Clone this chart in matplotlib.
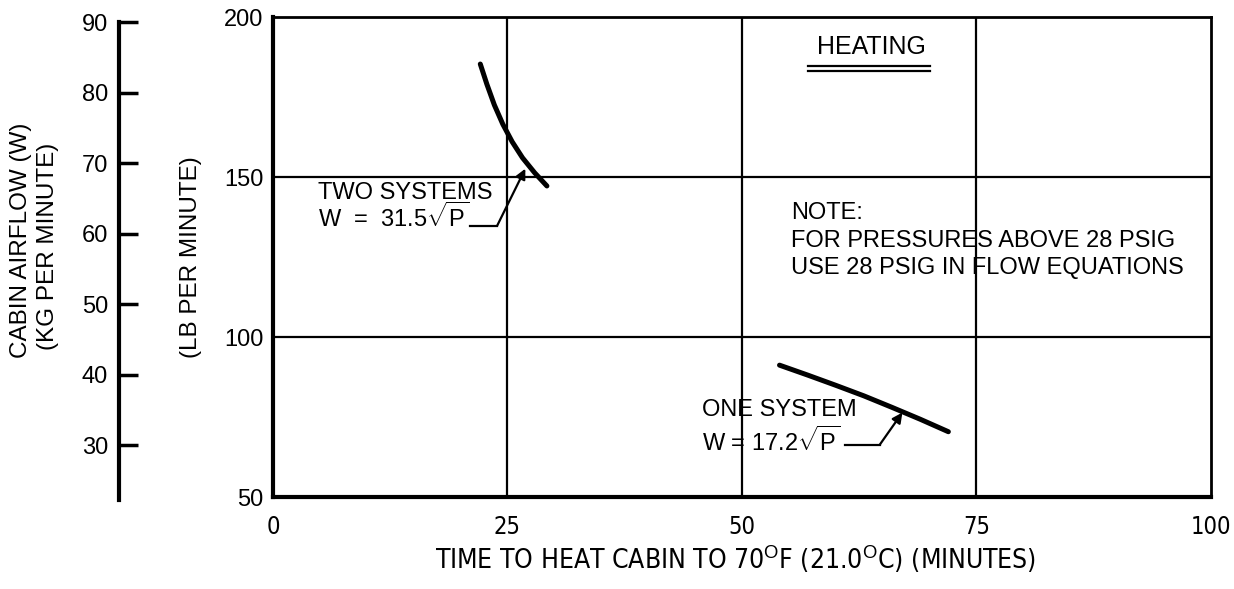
import numpy as np
import matplotlib.pyplot as plt

plt.rcParams['font.family'] = ['Liberation Sans', 'DejaVu Sans']
plt.rcParams['mathtext.fontset'] = 'custom'
plt.rcParams['mathtext.rm'] = 'Liberation Sans'
plt.rcParams['mathtext.it'] = 'Liberation Sans'
plt.rcParams['mathtext.bf'] = 'Liberation Sans:bold'

# heating curves: time (minutes) vs cabin airflow (lb/min)
two_t = [22.1, 22.8, 23.6, 24.5, 25.5, 26.6, 27.9, 29.2]
two_w = [185.3, 179.0, 172.5, 166.5, 161.0, 156.0, 151.3, 147.2]
one_t = [54.0, 57.0, 60.0, 63.0, 66.0, 69.0, 72.0]
one_w = [91.2, 88.1, 84.9, 81.6, 78.0, 74.3, 70.4]

x_ticks = [0, 25, 50, 75, 100]
lb_ticks = [50, 100, 150, 200]
kg_ticks = [30, 40, 50, 60, 70, 80, 90]
LB_PER_KG = 2.2046

cond = dict(family='DejaVu Sans', stretch='condensed')

fig = plt.figure(figsize=(12.34, 5.89), dpi=100)
ax = fig.add_axes([273 / 1234, 1 - 497 / 589, 938 / 1234, 480 / 589])

ax.set_xlim(0, 100)
ax.set_ylim(50, 200)
ax.set_xticks(x_ticks)
ax.set_yticks(lb_ticks)
ax.tick_params(axis='y', length=0, labelsize=17, pad=7)
ax.tick_params(axis='x', length=0, pad=13)
ax.set_xticklabels([str(v) for v in x_ticks], fontsize=17, **cond)

for v in [25, 50, 75]:
    ax.axvline(v, color='black', lw=1.6, zorder=1)
for v in [100, 150]:
    ax.axhline(v, color='black', lw=1.6, zorder=1)

ax.spines['left'].set_linewidth(3)
ax.spines['bottom'].set_linewidth(3)
ax.spines['top'].set_linewidth(2)
ax.spines['right'].set_linewidth(2)

ax.plot(two_t, two_w, color='black', lw=3.6, solid_capstyle='round', zorder=3)
ax.plot(one_t, one_w, color='black', lw=3.6, solid_capstyle='round', zorder=3)

arrow = dict(arrowstyle='-|>', color='black', lw=1.6, mutation_scale=15,
             shrinkA=0, shrinkB=0)

# labels with leader arrows
ax.text(4.8, 145.0, 'TWO SYSTEMS', fontsize=17, va='center', ha='left')
ax.text(4.8, 137.6, r'W  =  31.5$\sqrt{\mathrm{P}}$', fontsize=17, va='center', ha='left')
ax.plot([21.0, 23.9], [134.8, 134.8], color='black', lw=1.6)
ax.annotate('', xy=(26.9, 152.6), xytext=(23.9, 134.8), arrowprops=arrow)

ax.text(45.7, 77.2, 'ONE SYSTEM', fontsize=17, va='center', ha='left')
ax.text(45.7, 67.4, r'W = 17.2$\sqrt{\mathrm{P}}$', fontsize=17, va='center', ha='left')
ax.plot([61.0, 64.7], [66.4, 66.4], color='black', lw=1.6)
ax.annotate('', xy=(67.1, 76.4), xytext=(64.7, 66.4), arrowprops=arrow)

ax.text(63.8, 190.6, 'HEATING', fontsize=18, va='center', ha='center')
ax.plot([57.0, 70.0], [184.7, 184.7], color='black', lw=1.6)
ax.plot([57.0, 70.0], [183.1, 183.1], color='black', lw=1.6)

note = ['NOTE:', 'FOR PRESSURES ABOVE 28 PSIG', 'USE 28 PSIG IN FLOW EQUATIONS']
for line, y in zip(note, [138.7, 130.0, 121.6]):
    ax.text(55.2, y, line, fontsize=17, va='center', ha='left')

fig.text(735 / 1234, 1 - 560 / 589,
         r'TIME TO HEAT CABIN TO 70$^{\mathrm{O}}$F (21.0$^{\mathrm{O}}$C) (MINUTES)',
         fontsize=19, va='center', ha='center', **cond)
fig.text(191 / 1234, 1 - 257 / 589, '(LB PER MINUTE)', rotation=90,
         fontsize=17.5, va='center', ha='center')

# kilogram scale drawn as a separate axis on the left
kax = fig.add_axes([119 / 1234, 1 - 497 / 589, 0.0001, 480 / 589])
kax.set_ylim(50 / LB_PER_KG, 200 / LB_PER_KG)
kax.set_yticks(kg_ticks)
kax.set_xticks([])
for s in ['top', 'right', 'bottom']:
    kax.spines[s].set_visible(False)
kax.spines['left'].set_linewidth(3)
kax.spines['left'].set_bounds(22.3, 90)
kax.tick_params(axis='y', direction='in', length=14, width=2.5, labelsize=17, pad=8)
kax.patch.set_visible(False)

fig.text(21 / 1234, 1 - 240 / 589, 'CABIN AIRFLOW (W)', rotation=90,
         fontsize=17.5, va='center', ha='center')
fig.text(48 / 1234, 1 - 246 / 589, '(KG PER MINUTE)', rotation=90,
         fontsize=17.5, va='center', ha='center')

fig.savefig('out.png', dpi=100)
